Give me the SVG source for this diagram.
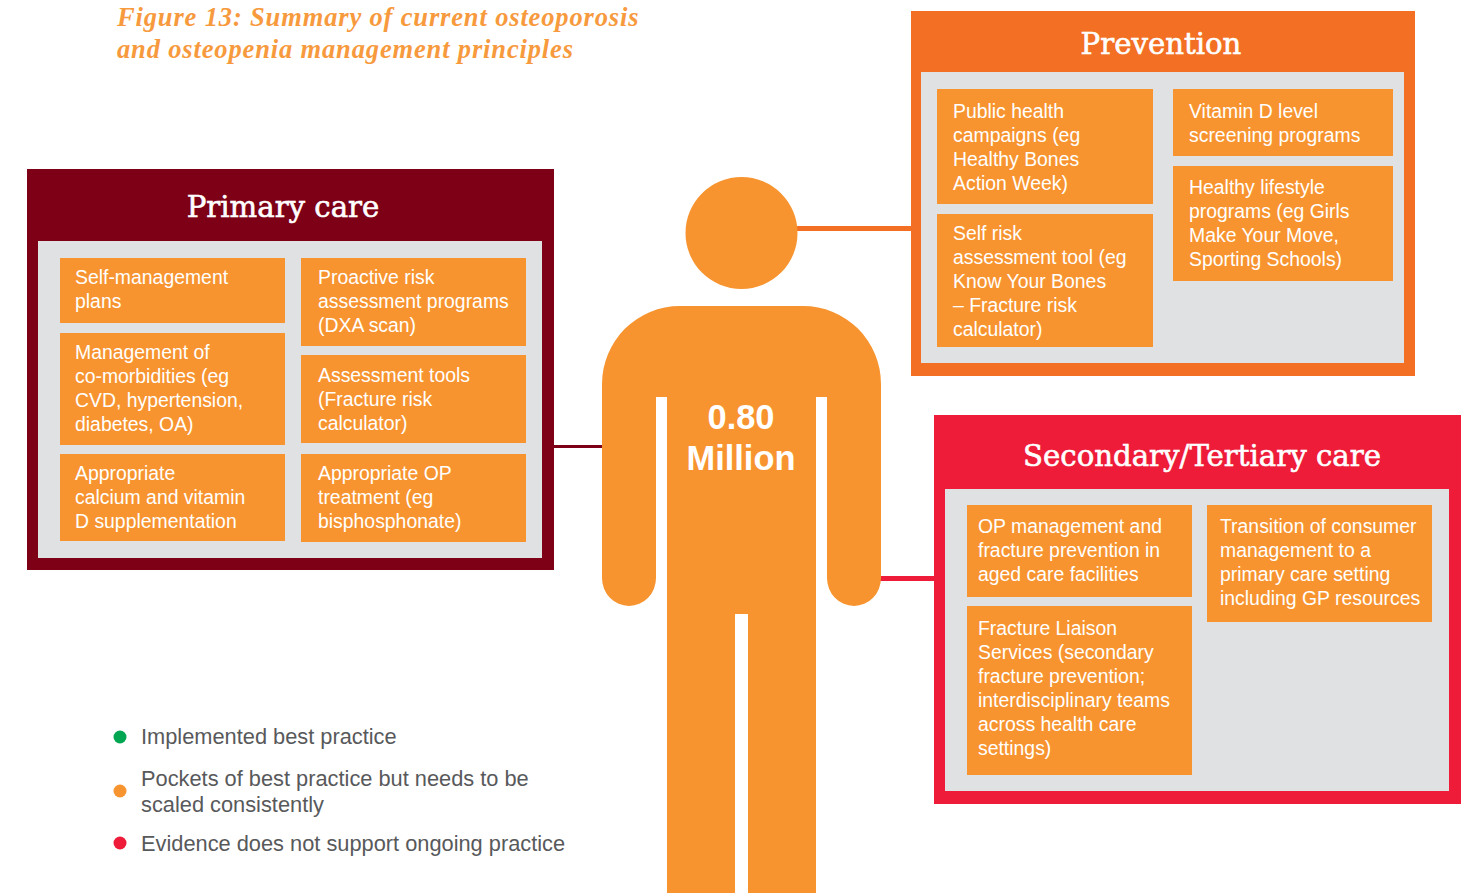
<svg xmlns="http://www.w3.org/2000/svg" width="1462" height="893" viewBox="0 0 1462 893">
<style>
text{font-family:"Liberation Sans",Arial,sans-serif}
.h{font-family:"DejaVu Serif","Liberation Serif",serif;font-size:29.2px;fill:#fff;stroke:#fff;stroke-width:.6px;text-anchor:middle}
.b{fill:#f7942f}
.t{font-size:19.4px;fill:#fff;transform:translateY(.6px)}
.l{font-size:21.8px;fill:#58595b}
.g{fill:#e0e1e3}
.f{font-family:"Liberation Serif",serif;font-style:italic;font-weight:700;font-size:26.500px;letter-spacing:.85px;fill:#f79a3e}
.m{font-size:34.400px;font-weight:700;fill:#fff;text-anchor:middle}
</style>
<rect width="1462" height="893" fill="#fff"/>
<text class="f"><tspan x="117" y="26">Figure 13: Summary of current osteoporosis</tspan><tspan x="117" y="58">and osteopenia management principles</tspan></text>
<g id="connectors">
<rect x="554" y="445" width="60" height="3" fill="#7e0017"/>
<rect x="790" y="226" width="125" height="5" fill="#f36f23"/>
<rect x="870" y="576" width="70" height="5" fill="#ee1c39"/>
</g>
<g id="person">
<circle cx="741.500" cy="233" r="56" class="b"/>
<path class="b" d="M680 306H803A78 78 0 0 1 881 384V578A27 28 0 0 1 827 578V397H816V893H748V614H735V893H667V397H656V578A27 28 0 0 1 602 578V384A78 78 0 0 1 680 306Z"/>
<text x="741" y="429" class="m">0.80</text>
<text x="741" y="470" class="m">Million</text>
</g>
<g id="primary-care">
<rect x="27" y="169" width="527" height="401" fill="#7e0017"/>
<text x="283" y="217" class="h">Primary care</text>
<rect x="38" y="241" width="504" height="317" class="g"/>
<rect x="60" y="258" width="225" height="65" class="b"/>
<text class="t"><tspan x="75" y="283">Self-management</tspan><tspan x="75" y="307">plans</tspan></text>
<rect x="301" y="258" width="225" height="88" class="b"/>
<text class="t"><tspan x="318" y="283">Proactive risk</tspan><tspan x="318" y="307">assessment programs</tspan><tspan x="318" y="331">(DXA scan)</tspan></text>
<rect x="60" y="333" width="225" height="112" class="b"/>
<text class="t"><tspan x="75" y="358">Management of</tspan><tspan x="75" y="382">co-morbidities (eg</tspan><tspan x="75" y="406">CVD, hypertension,</tspan><tspan x="75" y="430">diabetes, OA)</tspan></text>
<rect x="301" y="355" width="225" height="88" class="b"/>
<text class="t"><tspan x="318" y="381">Assessment tools</tspan><tspan x="318" y="405">(Fracture risk</tspan><tspan x="318" y="429">calculator)</tspan></text>
<rect x="60" y="454" width="225" height="87" class="b"/>
<text class="t"><tspan x="75" y="479">Appropriate</tspan><tspan x="75" y="503">calcium and vitamin</tspan><tspan x="75" y="527">D supplementation</tspan></text>
<rect x="301" y="454" width="225" height="88" class="b"/>
<text class="t"><tspan x="318" y="479">Appropriate OP</tspan><tspan x="318" y="503">treatment (eg</tspan><tspan x="318" y="527">bisphosphonate)</tspan></text>
</g>
<g id="prevention">
<rect x="911" y="11" width="504" height="365" fill="#f36f23"/>
<text x="1161" y="54" class="h">Prevention</text>
<rect x="921" y="72" width="483" height="291" class="g"/>
<rect x="937" y="89" width="216" height="115" class="b"/>
<text class="t"><tspan x="953" y="117">Public health</tspan><tspan x="953" y="141">campaigns (eg</tspan><tspan x="953" y="165">Healthy Bones</tspan><tspan x="953" y="189">Action Week)</tspan></text>
<rect x="1173" y="89" width="220" height="67" class="b"/>
<text class="t"><tspan x="1189" y="117">Vitamin D level</tspan><tspan x="1189" y="141">screening programs</tspan></text>
<rect x="937" y="214" width="216" height="133" class="b"/>
<text class="t"><tspan x="953" y="239">Self risk</tspan><tspan x="953" y="263">assessment tool (eg</tspan><tspan x="953" y="287">Know Your Bones</tspan><tspan x="953" y="311">– Fracture risk</tspan><tspan x="953" y="335">calculator)</tspan></text>
<rect x="1173" y="166" width="220" height="115" class="b"/>
<text class="t"><tspan x="1189" y="193">Healthy lifestyle</tspan><tspan x="1189" y="217">programs (eg Girls</tspan><tspan x="1189" y="241">Make Your Move,</tspan><tspan x="1189" y="265">Sporting Schools)</tspan></text>
</g>
<g id="secondary-tertiary-care">
<rect x="934" y="415" width="527" height="389" fill="#ee1c39"/>
<text x="1202" y="466" class="h">Secondary/Tertiary care</text>
<rect x="945" y="489" width="504" height="302" class="g"/>
<rect x="967" y="505" width="225" height="92" class="b"/>
<text class="t"><tspan x="978" y="532">OP management and</tspan><tspan x="978" y="556">fracture prevention in</tspan><tspan x="978" y="580">aged care facilities</tspan></text>
<rect x="1207" y="505" width="225" height="117" class="b"/>
<text class="t"><tspan x="1220" y="532">Transition of consumer</tspan><tspan x="1220" y="556">management to a</tspan><tspan x="1220" y="580">primary care setting</tspan><tspan x="1220" y="604">including GP resources</tspan></text>
<rect x="967" y="606" width="225" height="169" class="b"/>
<text class="t"><tspan x="978" y="634">Fracture Liaison</tspan><tspan x="978" y="658">Services (secondary</tspan><tspan x="978" y="682">fracture prevention;</tspan><tspan x="978" y="706">interdisciplinary teams</tspan><tspan x="978" y="730">across health care</tspan><tspan x="978" y="754">settings)</tspan></text>
</g>
<g id="legend">
<circle cx="120" cy="737" r="6.500" fill="#00a651"/>
<text class="l" x="141" y="744">Implemented best practice</text>
<circle cx="120" cy="791" r="6.500" fill="#f7942f"/>
<text class="l"><tspan x="141" y="786">Pockets of best practice but needs to be</tspan><tspan x="141" y="812">scaled consistently</tspan></text>
<circle cx="120" cy="843" r="6.500" fill="#ee1c39"/>
<text class="l" x="141" y="851">Evidence does not support ongoing practice</text>
</g>
</svg>
